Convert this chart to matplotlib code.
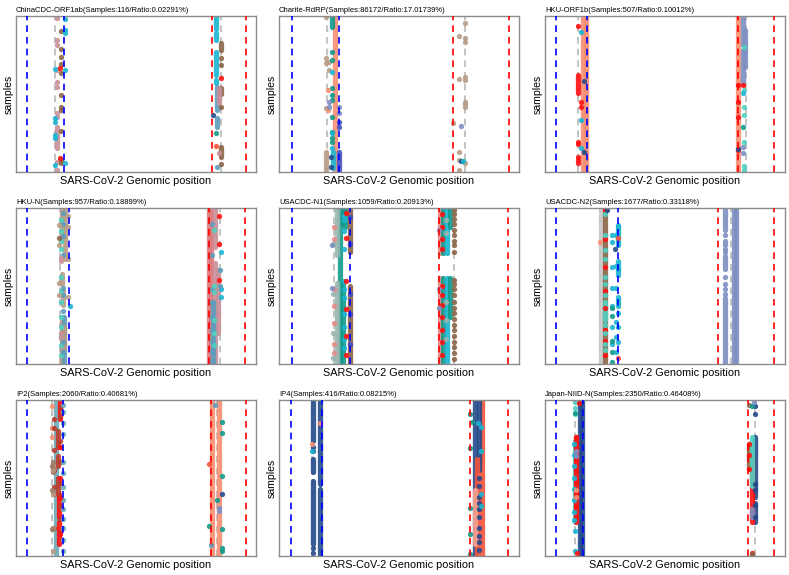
import matplotlib
matplotlib.use('Agg')
import matplotlib.pyplot as plt

plt.rcParams['font.family'] = ['Liberation Sans', 'DejaVu Sans']

# colour names used by the mutation groups
colors = {
    'pink': '#c98f98', 'brown': '#8b6547', 'cyan': '#1ab5d2', 'red': '#ff1010',
    'salmon': '#f88e72', 'orangered': '#f5533a', 'teal': '#139a8c', 'turq': '#4fd1c1',
    'slate': '#5d9dbb', 'peri': '#7d8fc2', 'tan': '#b89c86', 'navy': '#244a8c',
    'blueviolet': '#4450bf', 'grayteal': '#98b5af', 'rosy': '#e58b86',
    'steelteal': '#68aab6', 'darkred': '#bb3a2c', 'brownish': '#9e7a62',
    'lightgray': '#c8c8c8', 'rosered': '#de7a7c', 'lightsalmon': '#f6a391',
}

titles = [
    'ChinaCDC-ORF1ab(Samples:116/Ratio:0.02291%)',
    'Charite-RdRP(Samples:86172/Ratio:17.01739%)',
    'HKU-ORF1b(Samples:507/Ratio:0.10012%)',
    'HKU-N(Samples:957/Ratio:0.18899%)',
    'USACDC-N1(Samples:1059/Ratio:0.20913%)',
    'USACDC-N2(Samples:1677/Ratio:0.33118%)',
    'IP2(Samples:2060/Ratio:0.40681%)',
    'IP4(Samples:416/Ratio:0.08215%)',
    'Japan-NIID-N(Samples:2350/Ratio:0.46408%)',
]

# primer boundaries: fwd outer, fwd probe, fwd inner, rev inner, rev probe, rev outer
line_kinds = ['b', 'g', 'b', 'r', 'g', 'r']
vlines = [
    [4.7, 16.4, 20.1, 81.8, 85.4, 95.7],
    [5.3, 19.9, 24.9, 72.7, 77.6, 95.7],
    [4.5, 13.9, 17.5, 80.6, 83.8, 95.3],
    [4.7, 18.3, 22.2, 80.3, 84.8, 95.4],
    [5.3, 22.9, 29.6, 66.5, 73.0, 95.6],
    [4.5, 22.8, 30.6, 72.0, 77.6, 95.3],
    [4.7, 14.9, 19.4, 81.1, 83.6, 95.7],
    [5.0, 13.6, 18.1, 79.4, 83.1, 95.6],
    [4.5, 12.5, 15.9, 84.5, 87.3, 95.4],
]

# runs: (position, first sample, last sample, colour) -- dense stacks of samples
runs_1 = [(16.9, 70.9, 84.8, 'pink'), (83.2, 0.4, 8.5, 'cyan'), (83.2, 11.1, 15.4, 'cyan'),
          (83.2, 22.9, 37.8, 'cyan'), (83.2, 41.0, 43.2, 'cyan'), (83.8, 45.7, 60.3, 'slate'),
          (83.8, 65.6, 71.4, 'slate'), (85.4, 17.1, 21.8, 'brown'), (85.4, 46.4, 50.0, 'brown'),
          (85.4, 83.8, 90.2, 'brown'), (84.6, 46.4, 56.0, 'pink')]
runs_2 = [(23.4, 0, 100, 'salmon'), (22.0, 0.4, 7.3, 'teal'), (19.7, 87.0, 98.7, 'tan'),
          (22.3, 87.0, 97.6, 'cyan'), (24.9, 87.0, 98.7, 'blueviolet')]
runs_3 = [(15.7, 0, 100, 'salmon'), (16.9, 0, 100, 'salmon'), (13.9, 37.8, 49.6, 'red'),
          (80.6, 0, 100, 'salmon'), (82.7, 0.4, 18.6, 'peri'), (82.7, 21.8, 43.2, 'peri'),
          (83.4, 9.0, 32.5, 'peri')]
runs_4 = [(19.0, 1, 20, 'tan'), (20.6, 1, 33, 'tan'), (19.0, 42, 49, 'tan'), (19.6, 53, 62, 'tan'),
          (19.0, 70, 100, 'tan'), (20.2, 70, 100, 'slate'), (20.2, 76, 90, 'tan'),
          (80.3, 0, 100, 'rosered'), (81.2, 0, 100, 'rosered'), (83.0, 0, 25, 'pink'),
          (83.0, 35, 100, 'pink'), (84.0, 40, 80, 'pink'), (82.0, 60, 100, 'slate')]
runs_5 = [(25.3, 0, 100, 'teal'), (24.0, 0, 30, 'grayteal'), (24.0, 48, 100, 'grayteal'),
          (26.5, 0, 10, 'teal'), (27.5, 0, 12, 'teal'), (26.8, 48, 100, 'teal'),
          (29.6, 0, 28, 'brown'), (29.6, 50, 100, 'brown'),
          (67.2, 0, 29, 'rosy'), (67.2, 45, 100, 'rosy'), (68.5, 0, 29, 'teal'), (68.5, 45, 100, 'teal'),
          (70.0, 0, 29, 'cyan'), (70.0, 45, 100, 'cyan'), (71.3, 0, 12, 'teal'), (71.3, 45, 70, 'teal')]
runs_6 = [(23.3, 0, 100, 'lightgray'), (24.9, 0, 100, 'brown'), (24.9, 62, 72, 'turq'),
          (30.6, 11, 24, 'cyan'), (30.6, 34, 43, 'cyan'), (30.6, 57, 63, 'cyan'),
          (74.8, 0, 14, 'peri'), (74.8, 21, 24, 'peri'), (74.8, 31, 39, 'peri'), (74.8, 58, 100, 'peri'),
          (78.6, 0, 100, 'peri'), (79.4, 0, 100, 'peri')]
runs_7 = [(16.8, 0, 100, 'steelteal'), (18.5, 0, 12, 'red'), (18.0, 60, 75, 'red'), (18.0, 78, 92, 'red'),
          (17.6, 20, 30, 'darkred'), (17.6, 36, 42, 'darkred'), (17.6, 50, 60, 'darkred'),
          (15.6, 40, 46, 'brownish'), (81.6, 0, 100, 'salmon'), (84.6, 0, 100, 'salmon')]
runs_8 = [(14.2, 0, 26, 'navy'), (14.2, 38, 46, 'navy'), (14.2, 52, 92, 'navy'),
          (17.2, 0, 54, 'navy'), (17.2, 57, 100, 'navy'),
          (84.5, 0, 100, 'orangered'), (81.7, 0, 100, 'navy'), (83.2, 0, 45, 'navy'),
          (82.5, 38, 100, 'orangered'), (81.5, 58, 92, 'lightsalmon')]
runs_9 = [(14.5, 0, 100, 'navy'), (15.5, 0, 100, 'navy'), (12.3, 26, 78, 'turq'), (13.0, 24, 78, 'red'),
          (87.7, 24, 62, 'navy'), (87.7, 66, 78, 'navy'), (86.3, 38, 78, 'red'),
          (85.0, 28, 44, 'brown'), (86.3, 24, 55, 'turq'), (86.3, 70, 75, 'peri')]

# dots: (position, colour, samples)
dots_1 = [(16.9, 'pink', [1.5, 15.4, 18.6, 34.6, 42.1, 45.3, 62.4, 64.5, 93.4, 98.7]),
          (18.6, 'brown', [9.4, 21.4, 26.5, 30.8, 36.3, 50.6, 58.5, 60.3, 73.5, 92.3, 94.4]),
          (20.4, 'cyan', [1.9, 9.0, 11.1, 34.6, 94.0]),
          (16.3, 'cyan', [34.2, 65.6, 67.7, 76.3, 78.4, 95.5]),
          (18.5, 'red', [33.1, 90.8]), (83.8, 'slate', [96.6]),
          (85.4, 'brown', [27.1, 31.4, 58.1, 95.1]), (84.6, 'pink', [88.0]),
          (85.4, 'red', [40.0]), (83.2, 'orangered', [83.1]), (82.2, 'navy', [63.5]),
          (83.2, 'teal', [75.2])]
dots_2 = [(19.7, 'tan', [0.9, 27.1, 30.3, 59.2]), (20.8, 'tan', [29.3, 34.6]),
          (22.0, 'teal', [22.9, 28.2, 46.4, 50.6, 53.8, 64.5, 74.1, 78.4, 80.6]),
          (22.0, 'cyan', [35.7, 75.2, 84.8]), (20.4, 'salmon', [47.4, 60.3]),
          (20.8, 'peri', [54.9, 58.5]), (25.2, 'peri', [58.1, 62.4]),
          (25.2, 'blueviolet', [67.7, 70.9]), (21.6, 'navy', [90.2, 96.6]),
          (77.3, 'tan', [4.7, 14.3, 16.5, 38.9, 41.0, 54.9, 56.5, 58.1, 94.0]),
          (74.8, 'tan', [12.8, 40.4, 87.0, 92.3, 98.7]), (72.7, 'tan', [68.8]),
          (75.8, 'peri', [70.3]), (76.0, 'navy', [92.7]), (76.6, 'cyan', [93.2])]
dots_3 = [(13.9, 'red', [6.4, 80.6, 82.1, 90.2, 92.3, 94.4]), (14.9, 'red', [54.9, 58.1]),
          (14.9, 'cyan', [10.0, 66.7, 84.8]), (16.3, 'navy', [41.5, 87.0]),
          (80.6, 'red', [44.2, 55, 65, 85.9]), (80.6, 'navy', [85.5]), (82.7, 'peri', [83.8, 88]),
          (82.9, 'turq', [19.7, 47.4, 58.1, 63.5, 80.6, 96.2, 98.7]), (82.3, 'teal', [70.9]),
          (82.6, 'red', [44.2]), (82.6, 'cyan', [49.1])]
dots_4 = [(18.6, 'turq', [8, 15, 21, 26, 44, 53, 60, 70, 76, 82, 88, 94]),
          (19.6, 'slate', [3, 10, 18, 30, 51, 56, 66, 86, 92]), (18.6, 'pink', [32, 34, 80, 83]),
          (21.5, 'tan', [5, 12, 33, 57]), (22.4, 'cyan', [63]), (17.9, 'tan', [11, 24, 48, 56]),
          (18.0, 'brown', [19]),
          (81.5, 'slate', [10, 30, 52, 60, 70, 78, 85, 92, 98]), (82.5, 'turq', [14, 50, 54, 72, 80, 88]),
          (85.3, 'cyan', [28, 52, 57]), (84.6, 'red', [5, 23, 46]), (85.0, 'slate', [40, 50])]
dots_5 = [(23.0, 'rosy', [12, 20, 52, 63, 74, 87, 93]), (22.5, 'grayteal', [23, 55, 80, 96]),
          (27.0, 'cyan', [5, 8, 15, 26, 47, 52, 58, 68, 76, 84, 90]),
          (28.0, 'red', [3, 19, 47, 65, 82, 94]), (29.4, 'blueviolet', [6, 23, 55, 68, 87]),
          (22.0, 'peri', [24, 51]),
          (68.0, 'red', [4, 12, 20, 26, 50, 56, 62, 70, 78, 86, 94]), (66.5, 'peri', [14, 52, 64]),
          (69.5, 'grayteal', [8, 16, 60, 72, 84]),
          (73.0, 'brown', [1, 4, 7, 10, 14, 17, 21, 24, 28, 46, 49, 52, 56, 60, 64, 67, 71,
                           75, 78, 82, 86, 89, 93, 97])]
dots_6 = [(24.9, 'red', [1, 20, 38, 53, 64, 78, 85, 94]),
          (24.9, 'turq', [4, 17, 27, 33, 44, 49, 56, 60, 75, 80, 87, 91]),
          (28.0, 'cyan', [17, 22, 38, 51, 63, 76, 87]), (29.5, 'cyan', [17, 37, 51, 73, 83, 92]),
          (30.6, 'cyan', [12, 39, 67, 76, 86]), (27.8, 'teal', [64, 69, 85, 92, 99]),
          (29.0, 'navy', [26]), (26.0, 'navy', [1]), (30.6, 'orangered', [19, 96]),
          (23.0, 'salmon', [22]), (74.8, 'peri', [17, 26, 28, 44, 49, 52, 55])]
dots_7 = [(15.0, 'salmon', [4, 18, 24]), (15.8, 'darkred', [12, 18, 32, 45, 56, 60, 82]),
          (18.3, 'darkred', [5, 10, 26, 30, 40, 53, 62, 68, 76, 85]),
          (19.5, 'steelteal', [3, 8, 15, 22, 40, 47, 56, 64, 70, 76, 82, 90, 97]),
          (15.5, 'tan', [42, 45, 60, 82, 97]), (15.0, 'brownish', [42, 58, 83]),
          (18.5, 'red', [30, 50, 63, 86]),
          (85.7, 'teal', [14, 21, 49, 83, 95, 97]), (85.7, 'navy', [60]), (83.6, 'teal', [64]),
          (84.4, 'peri', [69, 71]), (80.5, 'orangered', [41]), (80.5, 'teal', [81]),
          (81.1, 'slate', [93]), (83.0, 'slate', [3])]
dots_8 = [(14.2, 'navy', [30, 33, 95, 98]), (13.7, 'salmon', [28]), (13.7, 'cyan', [33]),
          (17.2, 'salmon', [15]),
          (83.5, 'navy', [50, 55, 62, 66, 70, 75, 82, 87, 91, 96]),
          (79.4, 'teal', [9, 31, 69, 86, 99]), (80.5, 'teal', [14]),
          (84.0, 'cyan', [17, 33, 60, 68]), (83.0, 'cyan', [15])]
dots_9 = [(12.5, 'turq', [1, 5, 9]), (12.5, 'teal', [8.5]), (12.5, 'cyan', [84, 97]),
          (13.5, 'red', [98]), (12.8, 'red', [24, 30, 38, 45, 52, 60, 68, 75]),
          (12.0, 'cyan', [28, 35, 42, 50, 57, 64, 72, 77]), (13.0, 'peri', [33, 36]),
          (13.0, 'salmon', [58, 62]), (14.0, 'red', [2]),
          (85.0, 'red', [28, 35, 44]), (87.7, 'navy', [4, 9, 54, 58, 67, 75]), (85.0, 'brown', [3.5]),
          (86.3, 'teal', [4]), (86.3, 'red', [98]), (86.3, 'brown', [99]), (87.0, 'peri', [1])]

all_runs = [runs_1, runs_2, runs_3, runs_4, runs_5, runs_6, runs_7, runs_8, runs_9]
all_dots = [dots_1, dots_2, dots_3, dots_4, dots_5, dots_6, dots_7, dots_8, dots_9]

fig = plt.figure(figsize=(7.89, 5.75), dpi=100)
W, H = 789.0, 575.0
col_left = [16, 279, 545]
row_top = [16, 208, 400]
ax_w, ax_h = 240, 156

line_style = {'b': ('blue', 3), 'g': ('#b8b8b8', 1), 'r': ('red', 3)}
ms = 3.8

for i in range(9):
    r, c = divmod(i, 3)
    ax = fig.add_axes([col_left[c] / W, (H - row_top[r] - ax_h) / H, ax_w / W, ax_h / H])
    for x, kind in zip(vlines[i], line_kinds):
        col, z = line_style[kind]
        ax.axvline(x, color=col, lw=1.2, ls=(0, (4, 3)), zorder=z)
    for x, y0, y1, cname in all_runs[i]:
        ax.plot([x, x], [y0, y1], color=colors[cname], lw=ms, solid_capstyle='round',
                alpha=0.9, zorder=2)
    for x, cname, ys in all_dots[i]:
        ax.plot([x] * len(ys), ys, 'o', color=colors[cname], ms=ms, mew=0, alpha=0.9, zorder=2)
    ax.set_xlim(0, 100)
    ax.set_ylim(100, 0)
    ax.set_xticks([])
    ax.set_yticks([])
    for sp in ax.spines.values():
        sp.set_color('#8c8c8c')
        sp.set_linewidth(1.0)
    ax.set_title(titles[i], loc='left', fontsize=5.5, pad=3)
    ax.set_xlabel('SARS-CoV-2 Genomic position', fontsize=7.8, labelpad=3)
    ax.set_ylabel('samples', fontsize=7.6, labelpad=2)

fig.savefig('out.png', dpi=100)
